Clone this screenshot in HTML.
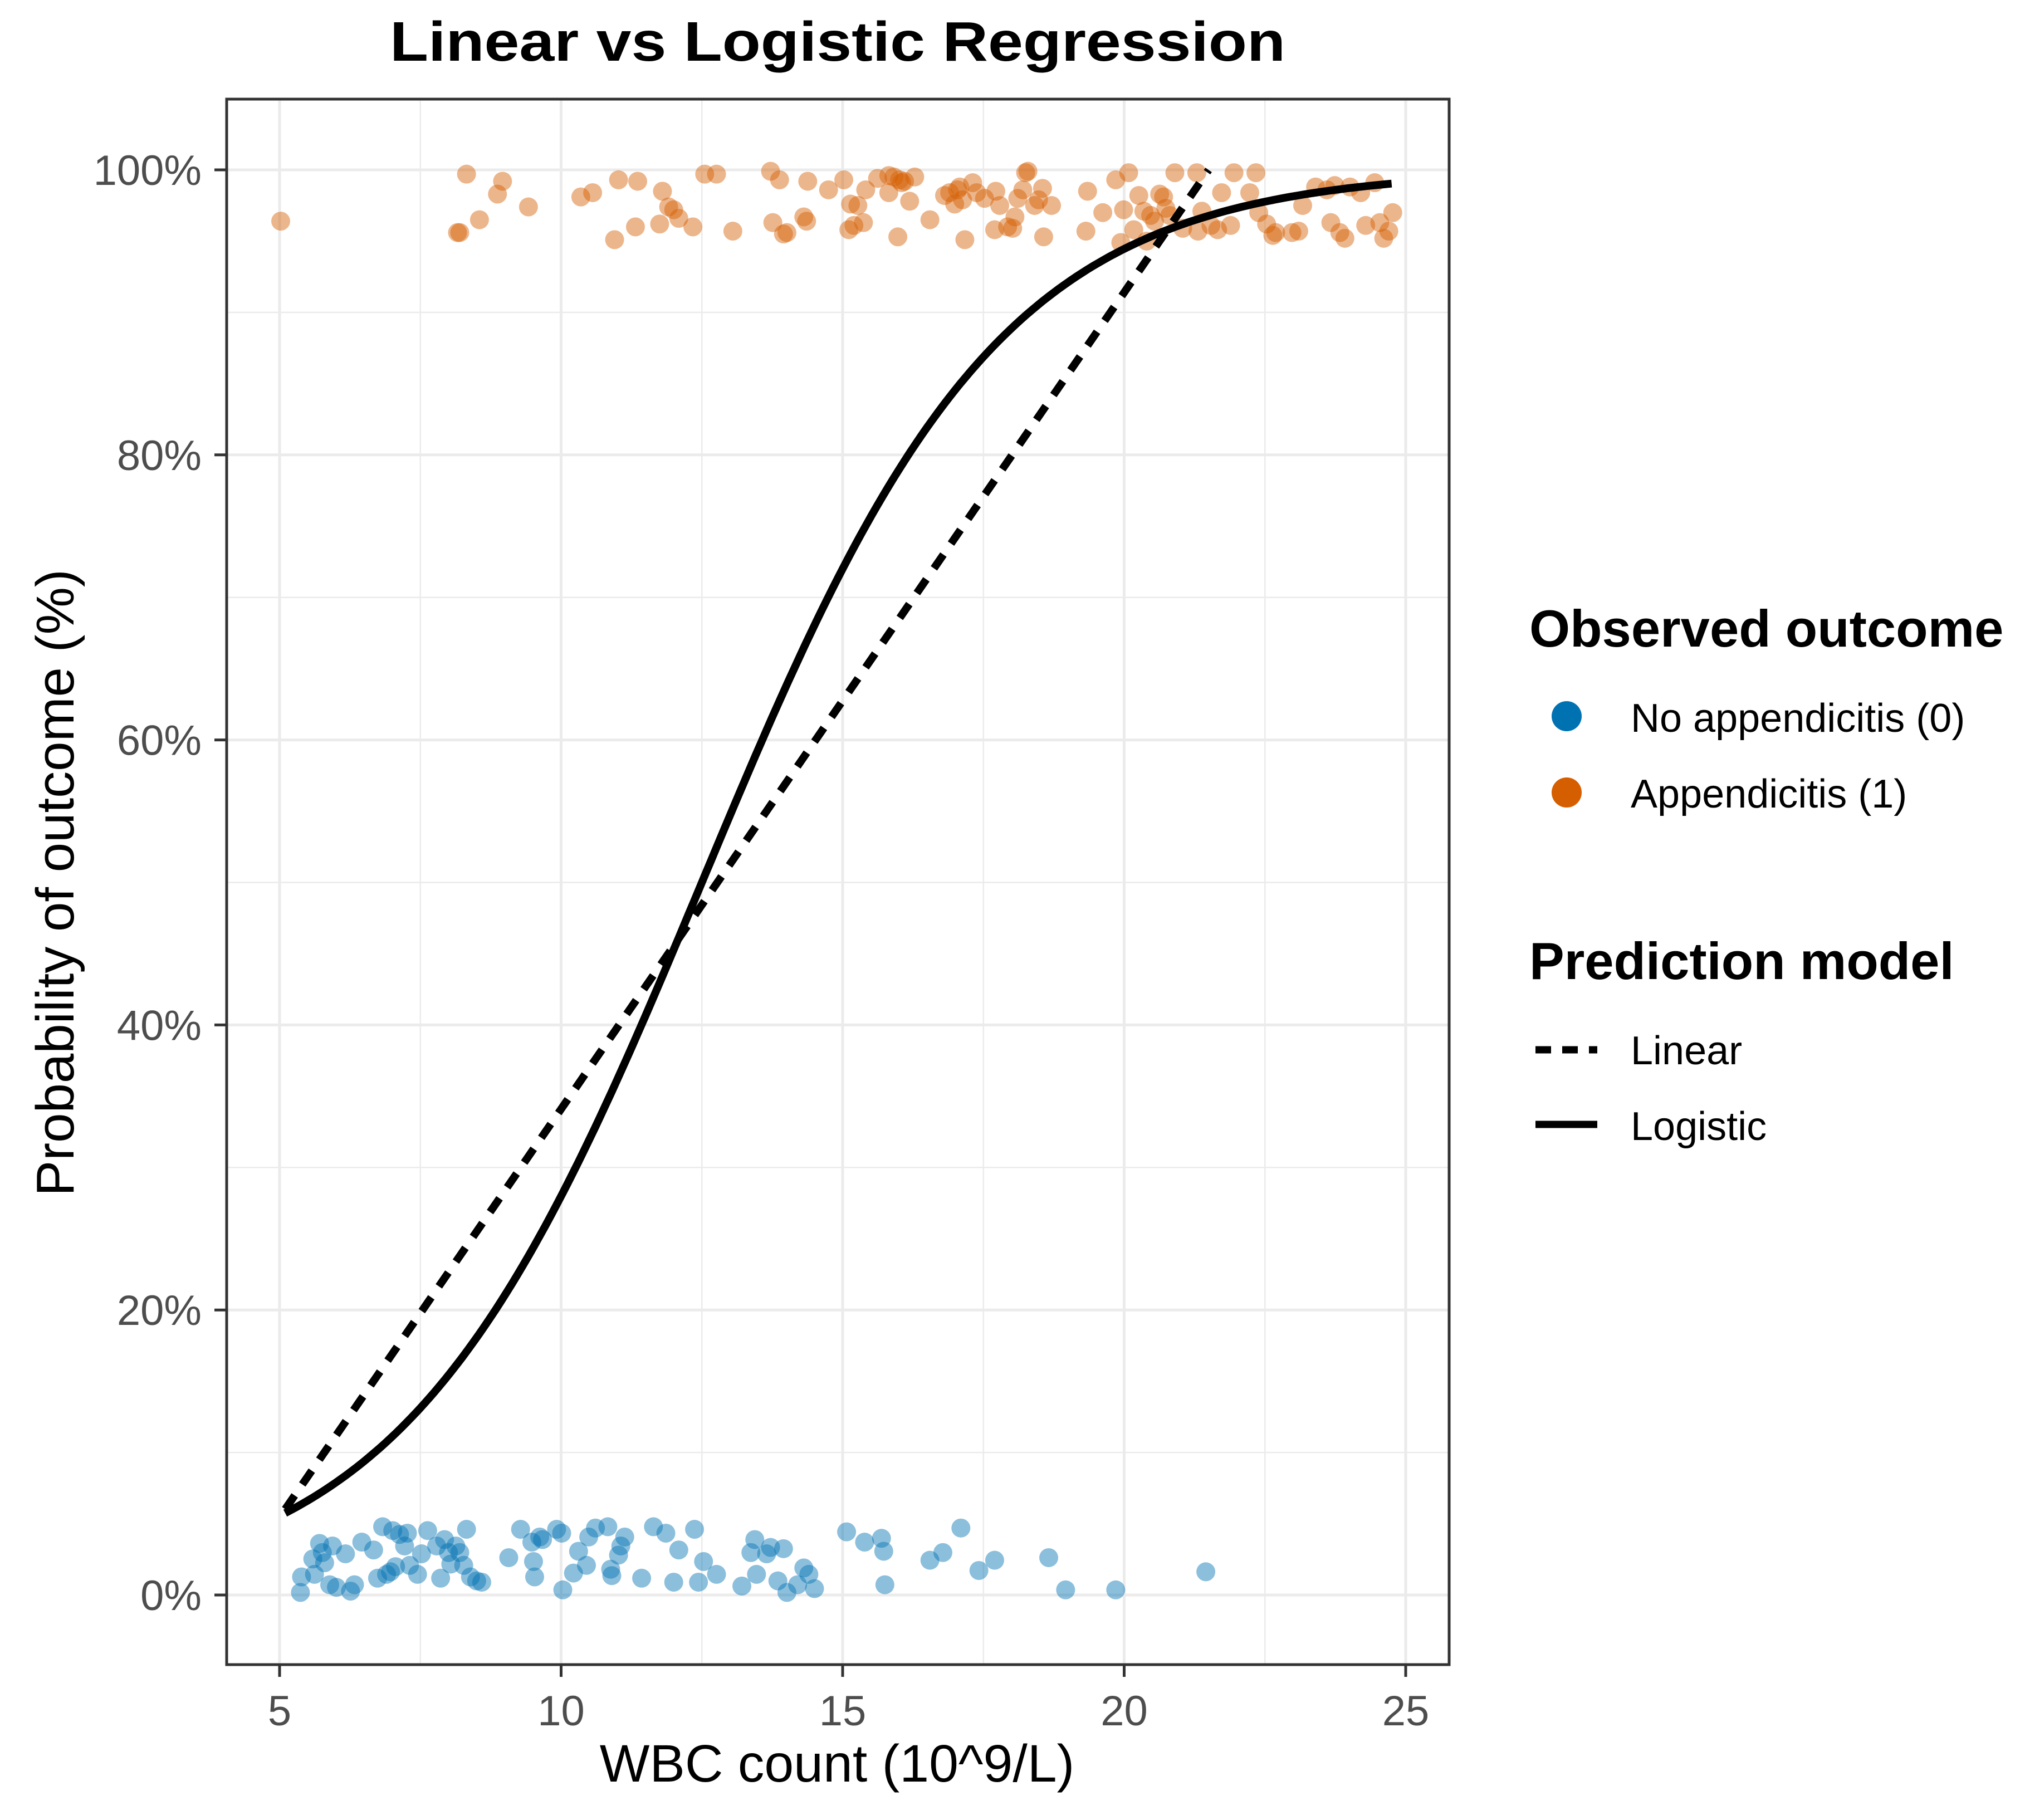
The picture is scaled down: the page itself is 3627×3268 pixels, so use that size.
<!DOCTYPE html>
<html><head><meta charset="utf-8"><style>
html,body{margin:0;padding:0;background:#fff;}
svg{display:block;font-family:"Liberation Sans",Arial,sans-serif;}
</style></head><body>
<svg id="chart" width="3627" height="3268" viewBox="0 0 3627 3268" xmlns="http://www.w3.org/2000/svg">
<rect width="3627" height="3268" fill="#fff"/>
<g id="grid"></g>
<g id="pts"></g>
<g id="lines"></g>
<rect x="407" y="178" width="2195" height="2811" fill="none" stroke="#333" stroke-width="5"/>
<g id="axes"></g>
<text x="1504" y="109" text-anchor="middle" font-size="100" font-weight="bold" textLength="1608" lengthAdjust="spacingAndGlyphs">Linear vs Logistic Regression</text>
<text x="1503" y="3199" text-anchor="middle" font-size="95">WBC count (10^9/L)</text>
<text transform="translate(132,1585) rotate(-90)" text-anchor="middle" font-size="96">Probability of outcome (%)</text>
<g>
<text x="2746" y="1161" font-size="94" font-weight="bold">Observed outcome</text>
<circle cx="2813" cy="1286" r="27" fill="#0072B2"/>
<text x="2928" y="1314" font-size="72">No appendicitis (0)</text>
<circle cx="2813" cy="1423" r="27" fill="#D55E00"/>
<text x="2928" y="1450" font-size="72">Appendicitis (1)</text>
<text x="2746" y="1758" font-size="94" font-weight="bold">Prediction model</text>
<line x1="2757" y1="1885" x2="2868" y2="1885" stroke="#000" stroke-width="13" stroke-dasharray="28,20"/>
<text x="2928" y="1911" font-size="72">Linear</text>
<line x1="2757" y1="2019" x2="2868" y2="2019" stroke="#000" stroke-width="13"/>
<text x="2928" y="2047" font-size="72">Logistic</text>
</g>
</svg>
<script>
const xTicks=[5,10,15,20,25];
const yTicks=[0,20,40,60,80,100];
const yTickLabels=["0%","20%","40%","60%","80%","100%"];
const xMinor=[7.5,12.5,17.5,22.5];
const yMinor=[10,30,50,70,90];
const blueX=[5.37,5.39,5.59,5.62,5.71,5.76,5.80,5.89,5.94,6.01,6.17,6.26,6.33,6.46,6.67,6.74,6.83,6.90,6.97,7.01,7.06,7.13,7.22,7.27,7.31,7.45,7.52,7.63,7.79,7.86,7.93,8.00,8.04,8.13,8.20,8.27,8.32,8.39,8.50,8.59,9.07,9.28,9.48,9.51,9.53,9.62,9.67,9.92,10.01,10.03,10.22,10.31,10.45,10.49,10.61,10.83,10.88,10.90,11.02,11.06,11.13,11.43,11.64,11.86,12.00,12.09,12.37,12.44,12.53,12.76,13.21,13.37,13.44,13.47,13.65,13.72,13.85,13.95,14.01,14.20,14.31,14.40,14.50,15.07,15.39,15.69,15.73,15.75,16.55,16.78,17.10,17.42,17.70,18.66,18.96,19.85,21.45];
const blueY=[0.18,1.27,2.53,1.45,3.62,2.98,2.26,0.72,3.44,0.54,2.89,0.27,0.72,3.71,3.16,1.18,4.79,1.45,1.63,4.52,1.99,4.25,3.44,4.34,2.08,1.45,2.89,4.52,3.44,1.18,3.89,2.98,2.17,3.44,2.98,2.08,4.61,1.27,0.99,0.90,2.62,4.61,3.71,2.35,1.27,4.07,3.89,4.61,4.34,0.36,1.54,3.07,2.08,4.07,4.70,4.79,1.81,1.36,2.80,3.44,4.07,1.18,4.79,4.34,0.90,3.16,4.61,0.90,2.35,1.45,0.63,2.98,3.89,1.45,2.89,3.34,0.99,3.25,0.18,0.72,1.90,1.45,0.45,4.43,3.71,3.98,3.07,0.72,2.44,2.98,4.70,1.72,2.44,2.62,0.36,0.36,1.63];
const orangeX=[5.02,8.16,8.20,8.32,8.55,8.87,8.96,9.42,10.35,10.56,10.95,11.02,11.32,11.36,11.75,11.80,11.91,12.00,12.09,12.34,12.55,12.76,13.05,13.72,13.76,13.88,13.95,14.01,14.31,14.36,14.38,14.75,15.02,15.11,15.14,15.20,15.27,15.37,15.41,15.62,15.82,15.82,15.91,16.01,16.05,16.10,16.19,16.28,15.98,16.55,16.81,16.90,16.99,17.04,17.08,17.13,17.17,17.31,17.38,17.52,17.70,17.72,17.79,17.93,18.02,18.06,18.11,18.20,18.25,18.29,18.41,18.48,18.55,18.57,18.71,19.32,19.35,19.62,19.85,19.94,19.99,20.08,20.17,20.26,20.35,20.40,20.47,20.54,20.63,20.70,20.74,20.81,20.90,21.04,21.29,21.31,21.38,21.54,21.66,21.73,21.89,21.95,22.23,22.34,22.39,22.53,22.64,22.69,22.98,23.10,23.17,23.40,23.60,23.67,23.74,23.83,23.92,24.01,24.20,24.29,24.45,24.54,24.61,24.70,24.77];
const orangeY=[96.4,95.6,95.6,99.7,96.5,98.3,99.2,97.4,98.1,98.4,95.1,99.3,96.0,99.2,96.2,98.5,97.4,97.2,96.6,96.0,99.7,99.7,95.7,99.9,96.3,99.3,95.5,95.6,96.7,96.4,99.2,98.6,99.3,95.8,97.6,96.1,97.5,96.3,98.6,99.4,98.4,99.6,99.5,99.3,99.1,99.2,97.8,99.5,95.3,96.5,98.2,98.4,97.6,98.6,98.8,97.9,95.1,99.1,98.4,98.0,95.8,98.5,97.5,96.0,95.9,96.7,98.0,98.6,99.8,99.9,97.5,97.9,98.7,95.3,97.5,95.7,98.5,97.0,99.3,94.9,97.2,99.8,95.8,98.2,97.1,95.0,96.8,96.4,98.3,98.1,97.3,96.8,99.8,95.9,99.8,95.7,97.1,96.1,95.8,98.4,96.1,99.8,98.4,99.8,97.0,96.2,95.4,95.6,95.6,95.7,97.5,98.8,98.6,96.3,98.9,95.6,95.2,98.8,98.4,96.1,99.1,96.3,95.2,95.7,97.0];
const linearCoef=[-23.2,5.73];       // percent = a + b*x
const logisticCoef=[-4.725,0.378];   // logit = a + b*x
const linearRange=[5.1,21.5];
const logisticRange=[5.1,24.75];

const NS="http://www.w3.org/2000/svg";
function sx(v){return 502+(v-5)*101.1;}
function sy(p){return 2864-p*25.59;}
function mk(tag,attrs,parent){const e=document.createElementNS(NS,tag);for(const k in attrs)e.setAttribute(k,attrs[k]);parent.appendChild(e);return e;}
const grid=document.getElementById('grid'),pts=document.getElementById('pts'),lines=document.getElementById('lines'),axes=document.getElementById('axes');
xMinor.forEach(v=>{const l=mk('line',{x1:sx(v),x2:sx(v),y1:178,y2:2989,stroke:'#EBEBEB','stroke-width':2.5},grid);

});
yMinor.forEach(v=>{const l=mk('line',{x1:407,x2:2602,y1:sy(v),y2:sy(v),stroke:'#EBEBEB','stroke-width':2.5},grid);

});
xTicks.forEach(v=>{const l=mk('line',{x1:sx(v),x2:sx(v),y1:178,y2:2989,stroke:'#EBEBEB','stroke-width':5},grid);


const t=mk('line',{x1:sx(v),x2:sx(v),y1:2989,y2:3011,stroke:'#333','stroke-width':5},axes);


const tx=mk('text',{x:sx(v),y:3098,'text-anchor':'middle','font-size':76,fill:'#4D4D4D'},axes);tx.textContent=v;

});
yTicks.forEach((v,i)=>{const l=mk('line',{x1:407,x2:2602,y1:sy(v),y2:sy(v),stroke:'#EBEBEB','stroke-width':5},grid);


const t=mk('line',{x1:385,x2:407,y1:sy(v),y2:sy(v),stroke:'#333','stroke-width':5},axes);


const tx=mk('text',{x:362,y:sy(v)+27,'text-anchor':'end','font-size':76,fill:'#4D4D4D'},axes);tx.textContent=yTickLabels[i];

});
blueX.forEach((v,i)=>{const c=mk('circle',{cx:sx(v),cy:sy(blueY[i]),r:17,fill:'#0072B2','fill-opacity':0.45},pts);

});
orangeX.forEach((v,i)=>{const c=mk('circle',{cx:sx(v),cy:sy(orangeY[i]),r:17,fill:'#D55E00','fill-opacity':0.45},pts);

});
let d='';
for(let k=0;k<=200;k++){const x=logisticRange[0]+(logisticRange[1]-logisticRange[0])*k/200;const p=100/(1+Math.exp(-(logisticCoef[0]+logisticCoef[1]*x)));d+=(k?'L':'M')+sx(x).toFixed(1)+','+sy(p).toFixed(1);}
const lg=mk('path',{d:d,fill:'none',stroke:'#000','stroke-width':14,'stroke-linejoin':'round'},lines);


const lx0=linearRange[0],lx1=linearRange[1];
const ln=mk('line',{x1:sx(lx0),y1:sy(linearCoef[0]+linearCoef[1]*lx0),x2:sx(lx1),y2:sy(linearCoef[0]+linearCoef[1]*lx1),stroke:'#000','stroke-width':14,'stroke-dasharray':'30,24'},lines);


</script>
</body></html>
